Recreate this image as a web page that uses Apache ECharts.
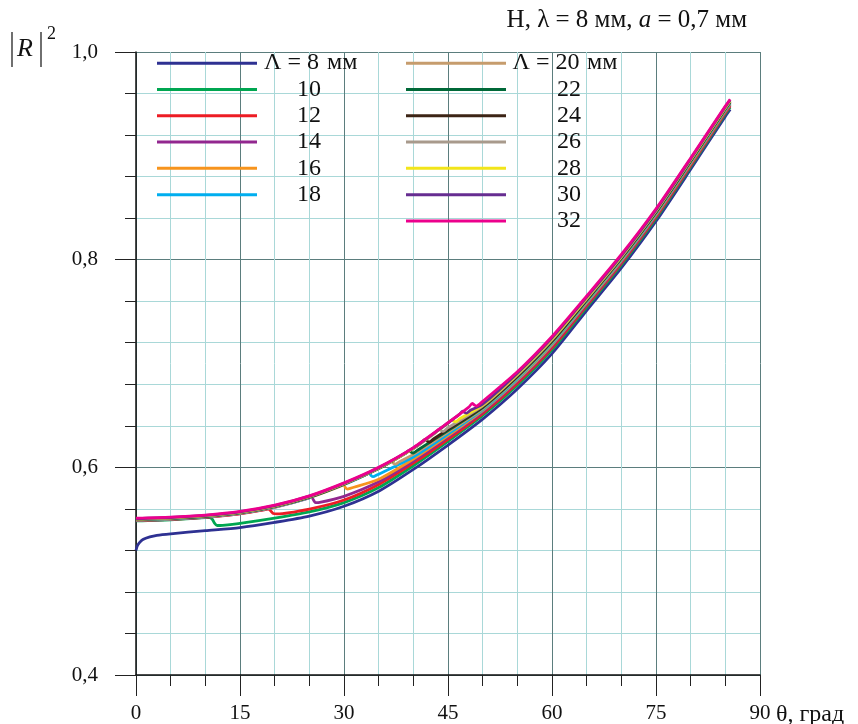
<!DOCTYPE html>
<html><head><meta charset="utf-8">
<script src="https://cdn.jsdelivr.net/npm/echarts@6/dist/echarts.min.js"></script>
<style>html,body{margin:0;padding:0;background:#fff}#c{width:858px;height:724px}</style>
</head><body><div id="c"></div>
<script>
// |R|^2 vs theta (deg), one array of [theta, R2] per grating period Λ (mm)
const L8  = [[0,0.520],[0.2,0.5245],[0.5,0.5275],[1,0.5305],[2,0.5330],[3,0.5345],[5,0.5360],[10,0.5390],[15,0.5420],[20,0.5470],[25,0.5530],[30,0.5625],[35,0.5770],[40,0.5980],[45,0.6215],[50,0.6465],[55,0.6755],[60,0.7095],[65,0.7510],[70,0.7920],[75,0.8370],[80,0.8870],[85,0.9380],[85.7,0.9447]];
const L10 = [[0,0.5485],[5,0.5495],[10,0.5515],[10.6,0.5517],[11.0,0.5500],[11.3,0.5465],[11.7,0.5440],[12.5,0.5442],[15,0.5460],[20,0.5510],[25,0.5570],[30,0.5660],[35,0.5805],[40,0.6015],[45,0.6250],[50,0.6499],[55,0.6791],[60,0.7131],[65,0.7541],[70,0.7949],[75,0.8396],[80,0.8894],[85,0.9402],[85.7,0.9468]];
const L12 = [[0,0.5488],[5,0.5498],[10,0.5518],[15,0.5553],[18.5,0.5590],[19.1,0.5600],[19.5,0.5575],[19.8,0.5555],[20.3,0.5552],[25,0.5598],[30,0.5685],[35,0.5835],[40,0.6040],[45,0.6270],[50,0.6518],[55,0.6811],[60,0.7151],[65,0.7558],[70,0.7964],[75,0.8411],[80,0.8907],[85,0.9414],[85.7,0.9480]];
const L14 = [[0,0.5490],[5,0.5500],[10,0.5520],[15,0.5555],[20,0.5615],[24.8,0.5700],[25.3,0.5718],[25.6,0.5685],[25.9,0.5660],[26.5,0.5662],[30,0.5720],[35,0.5860],[40,0.6060],[45,0.6290],[50,0.6533],[55,0.6828],[60,0.7168],[65,0.7572],[70,0.7977],[75,0.8423],[80,0.8918],[85,0.9424],[85.7,0.9490]];
const L16 = [[0,0.5492],[5,0.5502],[10,0.5522],[15,0.5557],[20,0.5617],[25,0.5707],[29.4,0.5815],[29.9,0.5835],[30.2,0.5805],[30.5,0.5790],[31,0.5800],[35,0.5885],[40,0.6080],[45,0.6305],[50,0.6546],[55,0.6841],[60,0.7181],[65,0.7583],[70,0.7988],[75,0.8432],[80,0.8927],[85,0.9432],[85.7,0.9498]];
const L18 = [[0,0.5494],[5,0.5504],[10,0.5524],[15,0.5559],[20,0.5619],[25,0.5709],[30,0.5834],[33.1,0.5927],[33.6,0.5948],[33.9,0.5922],[34.2,0.5910],[34.8,0.5928],[40,0.6100],[45,0.6320],[50,0.6556],[55,0.6852],[60,0.7192],[65,0.7593],[70,0.7997],[75,0.8441],[80,0.8935],[85,0.9439],[85.7,0.9505]];
const L20 = [[0,0.5496],[5,0.5506],[10,0.5526],[15,0.5561],[20,0.5621],[25,0.5711],[30,0.5836],[35,0.5986],[36.3,0.6036],[36.8,0.6062],[37.1,0.6040],[37.4,0.6030],[38,0.6055],[40,0.6125],[45,0.6340],[50,0.6566],[55,0.6862],[60,0.7202],[65,0.7601],[70,0.8005],[75,0.8448],[80,0.8942],[85,0.9445],[85.7,0.9511]];
const L22 = [[0,0.5498],[5,0.5508],[10,0.5528],[15,0.5563],[20,0.5623],[25,0.5713],[30,0.5838],[35,0.5988],[38.9,0.6136],[39.4,0.6163],[39.7,0.6145],[40,0.6138],[40.6,0.6165],[45,0.6355],[50,0.6575],[55,0.6872],[60,0.7212],[65,0.7609],[70,0.8012],[75,0.8455],[80,0.8948],[85,0.9451],[85.7,0.9517]];
const L24 = [[0,0.5500],[5,0.5510],[10,0.5530],[15,0.5565],[20,0.5625],[25,0.5715],[30,0.5840],[35,0.5990],[40,0.6180],[41.2,0.6238],[41.7,0.6270],[42.0,0.6252],[42.3,0.6244],[42.9,0.6273],[45,0.6365],[50,0.6583],[55,0.6880],[60,0.7220],[65,0.7616],[70,0.8019],[75,0.8461],[80,0.8954],[85,0.9456],[85.7,0.9522]];
const L26 = [[0,0.5502],[5,0.5512],[10,0.5532],[15,0.5567],[20,0.5627],[25,0.5717],[30,0.5842],[35,0.5992],[40,0.6182],[43.2,0.6333],[43.7,0.6366],[44.0,0.6355],[44.3,0.6346],[44.9,0.6377],[50,0.6591],[55,0.6889],[60,0.7229],[65,0.7623],[70,0.8025],[75,0.8467],[80,0.8959],[85,0.9461],[85.7,0.9527]];
const L28 = [[0,0.5504],[5,0.5514],[10,0.5534],[15,0.5569],[20,0.5629],[25,0.5719],[30,0.5844],[35,0.5994],[40,0.6184],[45,0.6424],[45.5,0.6455],[45.8,0.6445],[46.1,0.6439],[46.7,0.6469],[50,0.6598],[55,0.6897],[60,0.7237],[65,0.7630],[70,0.8032],[75,0.8473],[80,0.8965],[85,0.9466],[85.7,0.9532]];
const L30 = [[0,0.5507],[5,0.5517],[10,0.5537],[15,0.5572],[20,0.5632],[25,0.5722],[30,0.5847],[35,0.5997],[40,0.6187],[45,0.6427],[46.6,0.6507],[47.1,0.6540],[47.4,0.6528],[47.7,0.6522],[48.3,0.6552],[50,0.6608],[55,0.6907],[60,0.7247],[65,0.7639],[70,0.8040],[75,0.8480],[80,0.8971],[85,0.9472],[85.7,0.9538]];
const L32 = [[0,0.5510],[5,0.5520],[10,0.5540],[15,0.5575],[20,0.5635],[25,0.5725],[30,0.5850],[35,0.6000],[40,0.6190],[45,0.6430],[48.0,0.6580],[48.5,0.6615],[48.8,0.6600],[49.1,0.6590],[49.6,0.6612],[50,0.6635],[55,0.6920],[60,0.7260],[65,0.7650],[70,0.8050],[75,0.8490],[80,0.8980],[85,0.9480],[85.7,0.9545]];

const periods = ['8','10','12','14','16','18','20','22','24','26','28','30','32'];
const seriesData = [L8,L10,L12,L14,L16,L18,L20,L22,L24,L26,L28,L30,L32];
const colors = ['#2e3192','#00a651','#ed1c24','#92278f','#f7941d','#00aeef','#c69c6d','#006838','#3c2415','#a89a8c','#f2e51a','#662d91','#ec008c'];
const legendCol1 = ['8','10','12','14','16','18'];
const legendCol2 = ['20','22','24','26','28','30','32'];
const xTicks = [0,15,30,45,60,75,90];
const yTicks = [0.4,0.6,0.8,1.0];

const FONT = '"Liberation Serif","Times New Roman",serif';
const MAJOR = '#5b7d7d';
const MINOR = '#a9d8d8';

const chart = echarts.init(document.getElementById('c'), null, {renderer:'canvas'});

function legendFmt(first){
  return function(name){
    if (name === first) return '{a|Λ = ' + name + '}{m| мм}';
    return '{a|' + name + '}';
  };
}
function legendText(w){
  return {fontFamily:FONT, fontSize:24, color:'#111', lineHeight:26.3,
    rich:{a:{fontFamily:FONT, fontSize:24, color:'#111', width:w, align:'right', lineHeight:26.3},
          m:{fontFamily:FONT, fontSize:24, color:'#111', lineHeight:26.3}}};
}

const option = {
  animation:false,
  backgroundColor:'#fff',
  grid:{left:136, right:98, top:52, bottom:48, containLabel:false},
  xAxis:{
    type:'value', min:xTicks[0], max:xTicks[xTicks.length-1], interval:15,
    axisLine:{show:true, onZero:false, lineStyle:{color:'#111', width:1.5}},
    axisTick:{show:true, inside:false, length:21, lineStyle:{color:'#222', width:1}},
    minorTick:{show:true, splitNumber:3, length:11, lineStyle:{color:'#222', width:1}},
    splitLine:{show:true, lineStyle:{color:MAJOR, width:1}},
    minorSplitLine:{show:true, lineStyle:{color:MINOR, width:1}},
    axisLabel:{margin:28, fontFamily:FONT, fontSize:21, color:'#111'}
  },
  yAxis:{
    type:'value', min:yTicks[0], max:yTicks[yTicks.length-1], interval:0.2,
    axisLine:{show:true, onZero:false, lineStyle:{color:'#111', width:1.5}},
    axisTick:{show:true, inside:false, length:21, lineStyle:{color:'#222', width:1}},
    minorTick:{show:true, splitNumber:5, length:11, lineStyle:{color:'#222', width:1}},
    splitLine:{show:true, lineStyle:{color:MAJOR, width:1}},
    minorSplitLine:{show:true, lineStyle:{color:MINOR, width:1}},
    axisLabel:{margin:38, fontFamily:FONT, fontSize:21, color:'#111',
      formatter:function(v){return v.toFixed(1).replace('.',',');}}
  },
  legend:[
    {data:legendCol1, orient:'vertical', left:157, top:50, padding:0, itemWidth:100, itemHeight:3, itemGap:0,
     icon:'rect', selectedMode:false, formatter:legendFmt('8'), textStyle:legendText(59)},
    {data:legendCol2, orient:'vertical', left:406, top:50, padding:0, itemWidth:100, itemHeight:3, itemGap:0,
     icon:'rect', selectedMode:false, formatter:legendFmt('20'), textStyle:legendText(70)}
  ],
  graphic:[
    {type:'text', x:747, y:20, style:{text:'{n|H, λ = 8 мм, }{i|a}{n| = 0,7 мм}', textAlign:'right', textVerticalAlign:'middle',
      rich:{n:{fontFamily:FONT, fontSize:25, fill:'#111'}, i:{fontFamily:FONT, fontSize:25, fontStyle:'italic', fill:'#111'}}}},
    {type:'line', shape:{x1:12, y1:32, x2:12, y2:67}, style:{stroke:'#222', lineWidth:1.3}},
    {type:'line', shape:{x1:41, y1:32, x2:41, y2:67}, style:{stroke:'#222', lineWidth:1.3}},
    {type:'text', x:17, y:49, style:{text:'R', fontFamily:FONT, fontSize:26, fontStyle:'italic', fill:'#111', textVerticalAlign:'middle'}},
    {type:'text', x:47, y:34, style:{text:'2', fontFamily:FONT, fontSize:18, fill:'#111', textVerticalAlign:'middle'}},
    {type:'text', x:776, y:715, style:{text:'θ, град', fontFamily:FONT, fontSize:24, fill:'#111', textVerticalAlign:'middle'}}
  ],
  series: periods.map(function(p,i){
    return {name:p, type:'line', data:seriesData[i], showSymbol:false, symbol:'none',
      smooth:0.25, color:colors[i],
      lineStyle:{color:colors[i], width:2.8}, emphasis:{disabled:true}, z:2+i*0.01};
  })
};
chart.setOption(option);
</script></body></html>
